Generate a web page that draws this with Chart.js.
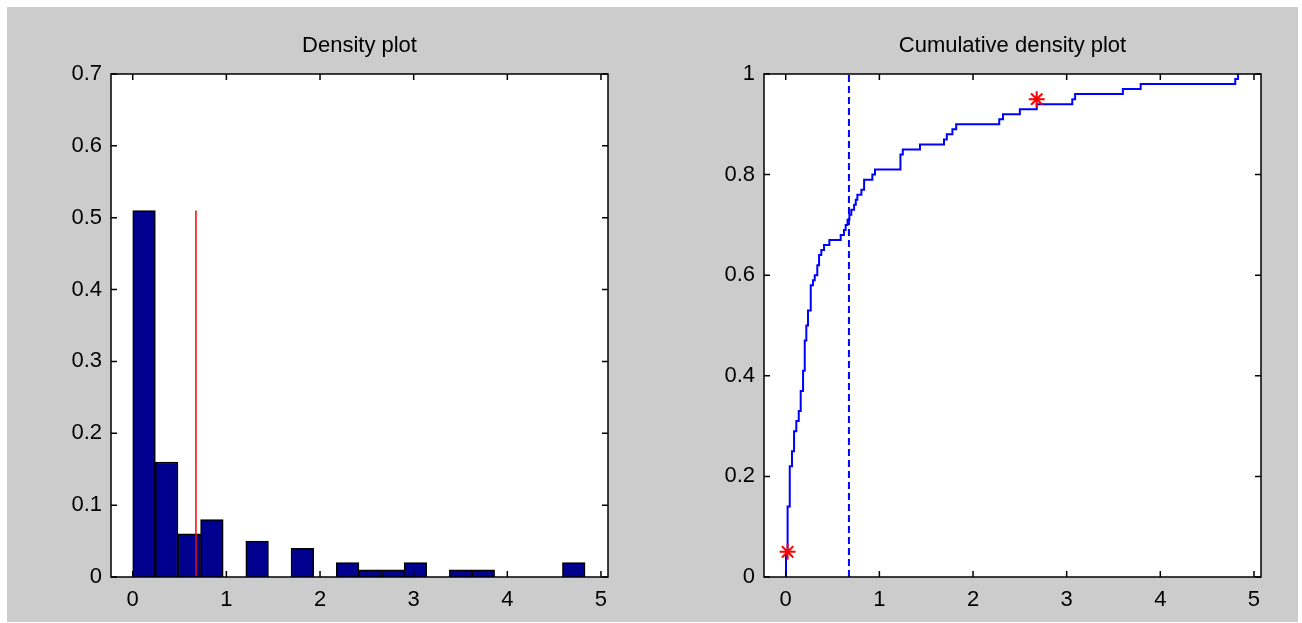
<!DOCTYPE html>
<html><head><meta charset="utf-8">
<script src="https://cdn.jsdelivr.net/npm/chart.js@4.4.1/dist/chart.umd.min.js"></script>
<style>
html,body{margin:0;padding:0;background:#fff;width:1302px;height:623px;overflow:hidden;}
#bg{position:absolute;left:7px;top:7px;width:1291px;height:615px;background:#cccccc;}
#c1{position:absolute;left:0;top:0;}
#c2{position:absolute;left:651px;top:0;}
</style></head><body>
<div id="bg"></div>
<canvas id="c1" width="651" height="623"></canvas>
<canvas id="c2" width="651" height="623"></canvas>
<script>
// ---- data ----
const binCenters = [0.1208, 0.3623, 0.6038, 0.8453, 1.0868, 1.3283, 1.5698, 1.8113, 2.0528, 2.2943,
                    2.5358, 2.7773, 3.0188, 3.2603, 3.5018, 3.7433, 3.9848, 4.2263, 4.4678, 4.7093];
const binFreq    = [0.51, 0.16, 0.06, 0.08, 0, 0.05, 0, 0.04, 0, 0.02,
                    0.01, 0.01, 0.02, 0, 0.01, 0.01, 0, 0, 0, 0.02];
const meanX = 0.675;
const meanLineTop = 0.51;
const cdfX = [0.000, 0.003, 0.020, 0.043, 0.067, 0.089, 0.113, 0.139, 0.160, 0.185,
              0.203, 0.220, 0.238, 0.267, 0.291, 0.310, 0.337, 0.356, 0.380, 0.409,
              0.466, 0.587, 0.622, 0.640, 0.660, 0.680, 0.700, 0.730, 0.748, 0.765,
              0.808, 0.837, 0.925, 0.953, 1.225, 1.250, 1.434, 1.690, 1.720, 1.780,
              1.820, 2.280, 2.320, 2.500, 2.680, 3.060, 3.090, 3.600, 3.790, 4.800, 4.830];
const cdfY = [0, 0.05, 0.14, 0.22, 0.25, 0.29, 0.31, 0.33, 0.37, 0.41,
              0.47, 0.50, 0.53, 0.58, 0.59, 0.60, 0.62, 0.64, 0.65, 0.66,
              0.67, 0.68, 0.69, 0.70, 0.71, 0.72, 0.73, 0.74, 0.75, 0.76,
              0.77, 0.79, 0.80, 0.81, 0.84, 0.85, 0.86, 0.87, 0.88, 0.89,
              0.90, 0.91, 0.92, 0.93, 0.94, 0.95, 0.96, 0.97, 0.98, 0.99, 1.00];
const quantX = [0.02, 2.68];
const quantY = [0.05, 0.95];
const xTicks = [0, 1, 2, 3, 4, 5];
const densityYTicks = [0, 0.1, 0.2, 0.3, 0.4, 0.5, 0.6, 0.7];
const cdfYTicks = [0, 0.2, 0.4, 0.6, 0.8, 1];
const xMin = -0.232, xMax = 5.075;

Chart.defaults.font.family = '"Liberation Sans", Arial, Helvetica, sans-serif';
Chart.defaults.font.size = 22;
Chart.defaults.color = '#000';

const frame = {
  id: 'frame',
  beforeDraw(chart) {
    const {ctx, chartArea: a} = chart;
    ctx.save();
    ctx.fillStyle = '#fff';
    ctx.fillRect(a.left, a.top, a.right - a.left, a.bottom - a.top);
    ctx.restore();
  },
  afterDatasetsDraw(chart) {
    const {ctx, chartArea: a, scales} = chart;
    const L = 6;
    ctx.save();
    ctx.strokeStyle = '#000';
    ctx.lineWidth = 1.5;
    ctx.beginPath();
    scales.x.ticks.forEach(t => {
      const px = scales.x.getPixelForValue(t.value);
      ctx.moveTo(px, a.bottom); ctx.lineTo(px, a.bottom - L);
      ctx.moveTo(px, a.top); ctx.lineTo(px, a.top + L);
    });
    scales.y.ticks.forEach(t => {
      const py = scales.y.getPixelForValue(t.value);
      ctx.moveTo(a.left, py); ctx.lineTo(a.left + L, py);
      ctx.moveTo(a.right, py); ctx.lineTo(a.right - L, py);
    });
    ctx.stroke();
    ctx.lineWidth = 1.5;
    ctx.strokeRect(a.left, a.top, a.right - a.left, a.bottom - a.top);
    ctx.restore();
  }
};

const fmt = v => String(+Number(v).toFixed(2));

function makeScales(yMax, yTickVals, yWidth) {
  return {
    x: {
      type: 'linear', min: xMin, max: xMax, offset: false,
      grid: {display: false, drawTicks: false}, border: {display: false},
      ticks: {padding: 10, maxRotation: 0, autoSkip: false, font: {size: 22}, callback: fmt},
      afterBuildTicks: s => { s.ticks = xTicks.map(v => ({value: v})); },
      afterFit: s => { s.height = 46; }
    },
    y: {
      type: 'linear', min: 0, max: yMax,
      grid: {display: false, drawTicks: false}, border: {display: false},
      ticks: {padding: 9, autoSkip: false, font: {size: 22}, callback: fmt},
      afterBuildTicks: s => { s.ticks = yTickVals.map(v => ({value: v})); },
      afterFit: s => { s.width = yWidth; }
    }
  };
}

function titleOpts(text) {
  return {display: true, text, fullSize: false, color: '#000',
          font: {size: 22, weight: 'normal'}, padding: {top: 0, bottom: 14.6}};
}

new Chart(document.getElementById('c1'), {
  type: 'bar',
  data: {
    datasets: [
      {type: 'line', data: [{x: meanX, y: 0}, {x: meanX, y: meanLineTop}],
       borderColor: '#ff0000', borderWidth: 1.5, pointRadius: 0, order: 1},
      {type: 'bar', data: binCenters.map((c, i) => ({x: c, y: binFreq[i]})),
       backgroundColor: '#00008f', borderColor: '#000', borderWidth: 1.5,
       barPercentage: 1, categoryPercentage: 1, order: 2}
    ]
  },
  options: {
    responsive: false, animation: false, devicePixelRatio: 1,
    layout: {padding: {top: 33, left: 0, right: 43, bottom: 0}},
    scales: makeScales(0.7, densityYTicks, 111),
    plugins: {legend: {display: false}, tooltip: {enabled: false}, title: titleOpts('Density plot')}
  },
  plugins: [frame]
});

new Chart(document.getElementById('c2'), {
  type: 'scatter',
  data: {
    datasets: [
      {data: quantX.map((x, i) => ({x, y: quantY[i]})), showLine: false,
       pointStyle: 'star', pointRadius: 8, borderColor: '#ff0000', backgroundColor: '#ff0000',
       borderWidth: 2, order: 1},
      {data: [{x: meanX, y: 0}, {x: meanX, y: 1}], showLine: true, pointRadius: 0,
       borderColor: '#0000ff', borderWidth: 2, borderDash: [7, 4], order: 2},
      {data: cdfX.map((x, i) => ({x, y: cdfY[i]})), showLine: true, stepped: 'before',
       pointRadius: 0, borderColor: '#0000ff', borderWidth: 2, order: 3}
    ]
  },
  options: {
    responsive: false, animation: false, devicePixelRatio: 1,
    layout: {padding: {top: 33, left: 0, right: 41, bottom: 0}},
    scales: makeScales(1, cdfYTicks, 113),
    plugins: {legend: {display: false}, tooltip: {enabled: false}, title: titleOpts('Cumulative density plot')}
  },
  plugins: [frame]
});
</script>
</body></html>
